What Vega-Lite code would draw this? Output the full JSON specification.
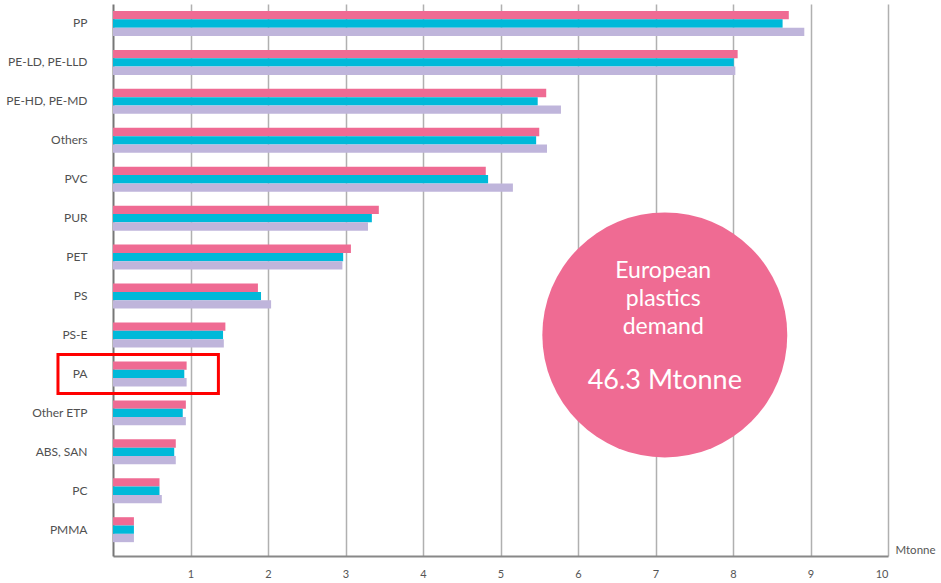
{
  "$schema": "https://vega.github.io/schema/vega-lite/v6.json",
  "width": 775,
  "height": 552,
  "autosize": {"type": "none"},
  "padding": {"left": 113, "top": 4, "right": 53, "bottom": 27},
  "config": {"view": {"stroke": null}, "font": "Lato"},
  "datasets": {
    "demand": [
      {"polymer": "PP", "series": "s1", "mtonne": 8.72},
      {"polymer": "PP", "series": "s2", "mtonne": 8.64},
      {"polymer": "PP", "series": "s3", "mtonne": 8.92},
      {"polymer": "PE-LD, PE-LLD", "series": "s1", "mtonne": 8.06},
      {"polymer": "PE-LD, PE-LLD", "series": "s2", "mtonne": 8.01},
      {"polymer": "PE-LD, PE-LLD", "series": "s3", "mtonne": 8.03},
      {"polymer": "PE-HD, PE-MD", "series": "s1", "mtonne": 5.59},
      {"polymer": "PE-HD, PE-MD", "series": "s2", "mtonne": 5.48},
      {"polymer": "PE-HD, PE-MD", "series": "s3", "mtonne": 5.78},
      {"polymer": "Others", "series": "s1", "mtonne": 5.5},
      {"polymer": "Others", "series": "s2", "mtonne": 5.46},
      {"polymer": "Others", "series": "s3", "mtonne": 5.6},
      {"polymer": "PVC", "series": "s1", "mtonne": 4.81},
      {"polymer": "PVC", "series": "s2", "mtonne": 4.84},
      {"polymer": "PVC", "series": "s3", "mtonne": 5.16},
      {"polymer": "PUR", "series": "s1", "mtonne": 3.43},
      {"polymer": "PUR", "series": "s2", "mtonne": 3.34},
      {"polymer": "PUR", "series": "s3", "mtonne": 3.29},
      {"polymer": "PET", "series": "s1", "mtonne": 3.07},
      {"polymer": "PET", "series": "s2", "mtonne": 2.97},
      {"polymer": "PET", "series": "s3", "mtonne": 2.96},
      {"polymer": "PS", "series": "s1", "mtonne": 1.87},
      {"polymer": "PS", "series": "s2", "mtonne": 1.91},
      {"polymer": "PS", "series": "s3", "mtonne": 2.04},
      {"polymer": "PS-E", "series": "s1", "mtonne": 1.45},
      {"polymer": "PS-E", "series": "s2", "mtonne": 1.42},
      {"polymer": "PS-E", "series": "s3", "mtonne": 1.43},
      {"polymer": "PA", "series": "s1", "mtonne": 0.95},
      {"polymer": "PA", "series": "s2", "mtonne": 0.92},
      {"polymer": "PA", "series": "s3", "mtonne": 0.95},
      {"polymer": "Other ETP", "series": "s1", "mtonne": 0.94},
      {"polymer": "Other ETP", "series": "s2", "mtonne": 0.9},
      {"polymer": "Other ETP", "series": "s3", "mtonne": 0.94},
      {"polymer": "ABS, SAN", "series": "s1", "mtonne": 0.81},
      {"polymer": "ABS, SAN", "series": "s2", "mtonne": 0.79},
      {"polymer": "ABS, SAN", "series": "s3", "mtonne": 0.81},
      {"polymer": "PC", "series": "s1", "mtonne": 0.6},
      {"polymer": "PC", "series": "s2", "mtonne": 0.6},
      {"polymer": "PC", "series": "s3", "mtonne": 0.63},
      {"polymer": "PMMA", "series": "s1", "mtonne": 0.27},
      {"polymer": "PMMA", "series": "s2", "mtonne": 0.27},
      {"polymer": "PMMA", "series": "s3", "mtonne": 0.27}
    ]
  },
  "data": {"name": "demand"},
  "layer": [
    {
      "mark": {"type": "bar"},
      "encoding": {
        "y": {
          "field": "polymer",
          "type": "nominal",
          "sort": ["PP", "PE-LD, PE-LLD", "PE-HD, PE-MD", "Others", "PVC", "PUR", "PET", "PS", "PS-E", "PA", "Other ETP", "ABS, SAN", "PC", "PMMA"],
          "scale": {"paddingInner": 0, "paddingOuter": 0.088, "align": 0},
          "axis": {
            "title": null,
            "ticks": false,
            "domainColor": "#777777",
            "domainWidth": 2,
            "labelPadding": 26,
            "labelFontSize": 12,
            "labelColor": "#505050",
            "grid": false
          }
        },
        "x": {
          "field": "mtonne",
          "type": "quantitative",
          "scale": {"domain": [0, 10], "nice": false},
          "axis": {
            "values": [1, 2, 3, 4, 5, 6, 7, 8, 9, 10],
            "format": "d",
            "grid": true,
            "gridColor": "#b0b0b0",
            "gridWidth": 1.5,
            "domainColor": "#888888",
            "domainWidth": 2,
            "ticks": false,
            "labelPadding": 12,
            "labelFontSize": 11,
            "labelColor": "#555555",
            "title": "Mtonne",
            "titleX": 782,
            "titleY": -3,
            "titleAlign": "left",
            "titleBaseline": "alphabetic",
            "titleAngle": 0,
            "titleFontWeight": "normal",
            "titleFontSize": 11.5,
            "titleColor": "#555555"
          }
        },
        "yOffset": {
          "field": "series",
          "type": "nominal",
          "sort": ["s1", "s2", "s3"],
          "scale": {"paddingInner": 0, "paddingOuter": 0.84}
        },
        "color": {
          "field": "series",
          "type": "nominal",
          "scale": {"domain": ["s1", "s2", "s3"], "range": ["#EF6B93", "#00B9D9", "#BFB5DB"]},
          "legend": null
        }
      }
    },
    {
      "data": {"values": [{}]},
      "mark": {"type": "point", "shape": "circle", "filled": true, "size": 60000, "color": "#EF6B93", "opacity": 1},
      "encoding": {
        "x": {"datum": 7.12, "type": "quantitative"},
        "y": {"datum": "PS-E", "type": "nominal"}
      }
    },
    {
      "data": {"values": [{"t": ["European", "plastics", "demand"]}]},
      "mark": {"type": "text", "color": "white", "fontSize": 23, "lineHeight": 28, "baseline": "middle", "dy": -64},
      "encoding": {
        "text": {"field": "t"},
        "x": {"datum": 7.1, "type": "quantitative"},
        "y": {"datum": "PS-E", "type": "nominal"}
      }
    },
    {
      "data": {"values": [{"t": "46.3 Mtonne"}]},
      "mark": {"type": "text", "color": "white", "fontSize": 27, "baseline": "alphabetic", "dy": 54},
      "encoding": {
        "text": {"field": "t"},
        "x": {"datum": 7.12, "type": "quantitative"},
        "y": {"datum": "PS-E", "type": "nominal"}
      }
    },
    {
      "data": {"values": [{}]},
      "mark": {"type": "rect", "filled": false, "stroke": "#ff0000", "strokeWidth": 3},
      "encoding": {
        "x": {"datum": -0.71, "type": "quantitative"},
        "x2": {"datum": 1.36},
        "y": {"datum": "PA", "type": "nominal"}
      }
    }
  ]
}
